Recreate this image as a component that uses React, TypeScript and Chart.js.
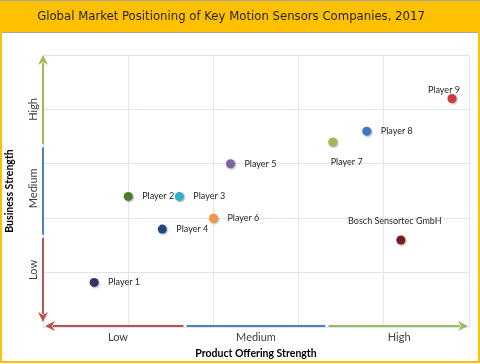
import React, { useEffect, useRef } from "react";
import { Chart, registerables } from "chart.js";

Chart.register(...registerables);

const chartTitle = "Global Market Positioning of Key Motion Sensors Companies, 2017";
const players = ["Player 1", "Player 2", "Player 3", "Player 4", "Player 5", "Player 6", "Player 7", "Player 8", "Player 9", "Bosch Sensortec GmbH"];
const productOffering = [0.6, 1.0, 1.6, 1.4, 2.2, 2.0, 3.4, 3.8, 4.8, 4.2];
const businessStrength = [0.82, 2.4, 2.4, 1.8, 3.0, 2.0, 3.4, 3.6, 4.2, 1.6];
const pointColors = ["#3F2C6B", "#4F7A28", "#31B0D0", "#1F497D", "#8064A2", "#F79646", "#9BBB59", "#3B78C5", "#D23B3B", "#7B1A1A"];
const labelPlacement = ["right", "right", "right", "right", "right", "right", "below", "right", "aboveLeft", "above"];
const levelLabels = ["Low", "Medium", "High"];
const xLevelPositions = [0.88, 2.5, 4.18];
const yLevelPositions = [1.05, 2.55, 4.0];
const xAxisTitle = "Product Offering Strength";
const yAxisTitle = "Business Strength";

const RED = "#C0504D";
const BLUE = "#4F81BD";
const GREEN = "#9BBB59";

function arrowHead(ctx: CanvasRenderingContext2D, tx: number, ty: number, dx: number, dy: number, color: string) {
  const L = 10, W = 5, N = 3;
  const px = -dy, py = dx;
  ctx.beginPath();
  ctx.moveTo(tx, ty);
  ctx.lineTo(tx - dx * L + px * W, ty - dy * L + py * W);
  ctx.lineTo(tx - dx * (L - N), ty - dy * (L - N));
  ctx.lineTo(tx - dx * L - px * W, ty - dy * L - py * W);
  ctx.closePath();
  ctx.fillStyle = color;
  ctx.fill();
}

function seg(ctx: CanvasRenderingContext2D, x1: number, y1: number, x2: number, y2: number, color: string) {
  ctx.beginPath();
  ctx.moveTo(x1, y1);
  ctx.lineTo(x2, y2);
  ctx.strokeStyle = color;
  ctx.lineWidth = 2;
  ctx.stroke();
}

const framePlugin = {
  id: "frame",
  beforeDraw(chart: any) {
    const ctx = chart.ctx as CanvasRenderingContext2D;
    const W = chart.width, H = chart.height;
    ctx.save();
    ctx.fillStyle = "#FFFFFF";
    ctx.fillRect(0, 0, W, H);
    ctx.fillStyle = "#FFC000";
    ctx.fillRect(0, 0, W, 32);
    ctx.strokeStyle = "#FFC000";
    ctx.lineWidth = 2;
    ctx.strokeRect(1, 1, W - 2, H - 3);
    ctx.fillStyle = "#A6A6A6";
    ctx.fillRect(0, 0, W, 1);
    ctx.fillRect(2, 32, W - 4, 1);
    ctx.restore();
  },
  beforeDatasetsDraw(chart: any) {
    const ctx = chart.ctx;
    ctx.save();
    ctx.shadowColor = "rgba(0,0,0,0.35)";
    ctx.shadowBlur = 2;
    ctx.shadowOffsetX = 1;
    ctx.shadowOffsetY = 1;
  },
  afterDatasetsDraw(chart: any) {
    const ctx = chart.ctx as CanvasRenderingContext2D;
    ctx.restore();
    const meta = chart.getDatasetMeta(0);
    ctx.save();
    ctx.font = "9px Lato";
    ctx.fillStyle = "#262626";
    meta.data.forEach((pt: any, i: number) => {
      const place = labelPlacement[i];
      const name = players[i];
      if (place === "right") {
        ctx.textAlign = "left";
        ctx.textBaseline = "middle";
        ctx.fillText(name, pt.x + 14, pt.y);
      } else if (place === "below") {
        ctx.textAlign = "center";
        ctx.textBaseline = "middle";
        ctx.fillText(name, pt.x + 14, pt.y + 20);
      } else if (place === "aboveLeft") {
        ctx.textAlign = "center";
        ctx.textBaseline = "middle";
        ctx.fillText(name, pt.x - 8, pt.y - 8);
      } else {
        ctx.textAlign = "center";
        ctx.textBaseline = "middle";
        ctx.fillText(name, pt.x - 6, pt.y - 19);
      }
    });
    ctx.restore();
  },
  afterDraw(chart: any) {
    const ctx = chart.ctx as CanvasRenderingContext2D;
    const xs = chart.scales.x, ys = chart.scales.y;
    ctx.save();
    // title
    ctx.font = "13px 'DejaVu Sans Condensed', 'DejaVu Sans'";
    ctx.fillStyle = "#262626";
    ctx.textAlign = "center";
    ctx.textBaseline = "middle";
    ctx.fillText(chartTitle, 231, 17);

    // y arrow
    const ax = xs.getPixelForValue(0);
    const yTop = ys.getPixelForValue(5);
    const yB1 = ys.getPixelForValue(10 / 3);
    const yB2 = ys.getPixelForValue(5 / 3);
    const yBot = ys.getPixelForValue(0) - 5;
    seg(ctx, ax, yTop + 8, ax, yB1 - 1.5, GREEN);
    seg(ctx, ax, yB1 + 1.5, ax, yB2 - 1.5, BLUE);
    seg(ctx, ax, yB2 + 1.5, ax, yBot - 8, RED);
    arrowHead(ctx, ax, yTop, 0, -1, GREEN);
    arrowHead(ctx, ax, yBot, 0, 1, RED);

    // x arrow
    const ay = ys.getPixelForValue(0) - 1;
    const xL = xs.getPixelForValue(0) + 2;
    const xB1 = xs.getPixelForValue(5 / 3);
    const xB2 = xs.getPixelForValue(10 / 3);
    const xR = xs.getPixelForValue(5) - 1;
    seg(ctx, xL + 8, ay, xB1 - 1.5, ay, RED);
    seg(ctx, xB1 + 1.5, ay, xB2 - 1.5, ay, BLUE);
    seg(ctx, xB2 + 1.5, ay, xR - 8, ay, GREEN);
    arrowHead(ctx, xL, ay, -1, 0, RED);
    arrowHead(ctx, xR, ay, 1, 0, GREEN);

    // level labels
    ctx.font = "11px Lato";
    ctx.fillStyle = "#404040";
    ctx.textAlign = "center";
    ctx.textBaseline = "middle";
    xLevelPositions.forEach((v, i) => {
      ctx.fillText(levelLabels[i], xs.getPixelForValue(v), 337.5);
    });
    yLevelPositions.forEach((v, i) => {
      ctx.save();
      ctx.translate(33, ys.getPixelForValue(v));
      ctx.rotate(-Math.PI / 2);
      ctx.fillText(levelLabels[i], 0, 0);
      ctx.restore();
    });
    ctx.restore();
  },
};

export default function App() {
  const ref = useRef<HTMLCanvasElement | null>(null);
  useEffect(() => {
    if (!ref.current) return;
    const chart = new Chart(ref.current, {
      type: "scatter",
      data: {
        labels: players,
        datasets: [
          {
            data: productOffering.map((x, i) => ({ x, y: businessStrength[i] })),
            pointBackgroundColor: pointColors,
            pointBorderColor: pointColors,
            pointRadius: 4.5,
            pointBorderWidth: 0,
          },
        ],
      },
      options: {
        animation: false,
        responsive: false,
        devicePixelRatio: 1,
        layout: { padding: { top: 55, right: 11, bottom: 0, left: 0 } },
        plugins: { legend: { display: false }, tooltip: { enabled: false }, title: { display: false } },
        scales: {
          x: {
            type: "linear",
            min: 0,
            max: 5,
            ticks: { display: false, stepSize: 1 },
            grid: { color: "#DCE6F2", drawTicks: false, lineWidth: 1 },
            border: { display: false },
            title: {
              display: true,
              text: xAxisTitle,
              font: { family: "Lato", size: 10.5, weight: "bold" },
              color: "#000000",
              padding: { top: 0, bottom: 4.5 },
            },
            afterFit(scale: any) {
              scale.height = 37;
            },
          },
          y: {
            type: "linear",
            min: 0,
            max: 5,
            ticks: { display: false, stepSize: 1 },
            grid: { color: "#DCE6F2", drawTicks: false, lineWidth: 1 },
            border: { display: false },
            title: {
              display: true,
              text: yAxisTitle,
              font: { family: "Lato", size: 10.5, weight: "bold" },
              color: "#000000",
              padding: { top: 3.7, bottom: 0 },
            },
            afterFit(scale: any) {
              scale.width = 43;
            },
          },
        },
      },
      plugins: [framePlugin],
    });
    return () => chart.destroy();
  }, []);
  return (
    <div style={{ position: "fixed", left: 0, top: 0, width: 480, height: 364 }}>
      <canvas ref={ref} width={480} height={364} />
    </div>
  );
}
